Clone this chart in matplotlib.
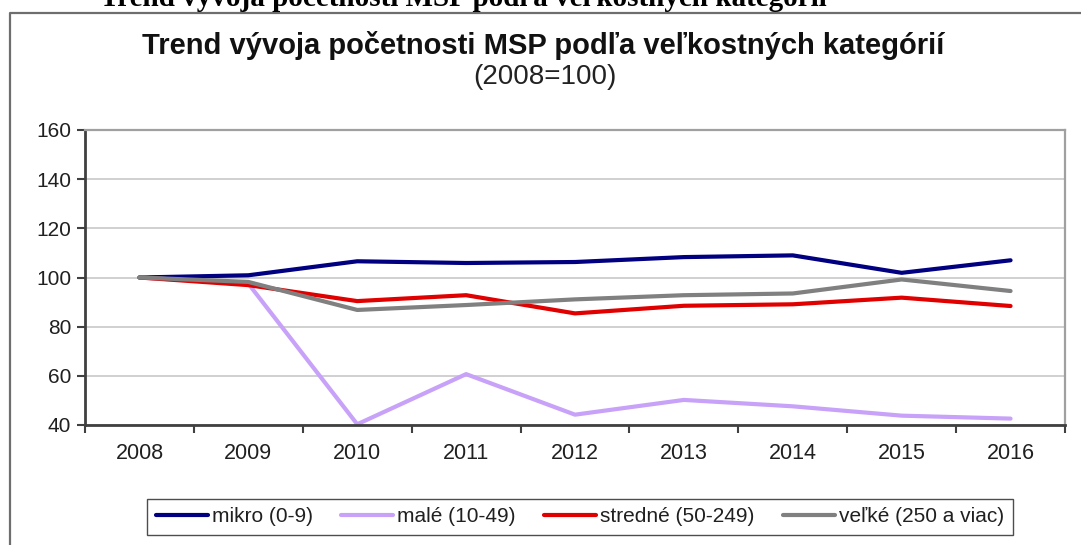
import matplotlib
matplotlib.use("Agg")
import matplotlib.pyplot as plt
from matplotlib.lines import Line2D

years = ["2008", "2009", "2010", "2011", "2012", "2013", "2014", "2015", "2016"]
mikro = [100, 100.9, 106.6, 105.9, 106.3, 108.3, 109.0, 101.9, 107.0]
male = [100, 97.5, 40.3, 60.7, 44.2, 50.2, 47.6, 43.8, 42.6]
stredne = [100, 96.9, 90.4, 92.8, 85.4, 88.5, 89.1, 91.8, 88.4]
velke = [100, 98.2, 86.8, 88.8, 91.1, 92.8, 93.5, 99.2, 94.5]
series_names = ["mikro (0-9)", "malé (10-49)", "stredné (50-249)", "veľké (250 a viac)"]
series_colors = ["#000080", "#C8A2F8", "#E00000", "#808080"]
yticks = [40, 60, 80, 100, 120, 140, 160]

W, H = 1081, 545
fig = plt.figure(figsize=(W / 100, H / 100), dpi=100)
fig.patch.set_facecolor("white")
font = ["Liberation Sans", "DejaVu Sans"]

# cropped header text of the document
fig.text(100 / W, 1 - 6 / H, "Trend vývoja početnosti MSP podľa veľkostných kategórií",
         family=["Liberation Serif", "DejaVu Serif"], weight="bold", fontsize=21,
         ha="left", va="baseline")

# outer chart frame (partially visible)
fig.add_artist(Line2D([10 / W, 10 / W, 1.0], [0.0, 1 - 13 / H, 1 - 13 / H],
                      transform=fig.transFigure, color="#6e6e6e", lw=1.6))

left, right, top, bottom = 85, 1065, 130, 425
ax = fig.add_axes([left / W, 1 - bottom / H, (right - left) / W, (bottom - top) / H])

x = list(range(len(years)))
for vals, name, col in zip([mikro, male, stredne, velke], series_names, series_colors):
    ax.plot(x, vals, color=col, lw=3.0, label=name, solid_joinstyle="round",
            solid_capstyle="round")

ax.set_xlim(-0.5, len(years) - 0.5)
ax.set_ylim(40, 160)
ax.set_yticks(yticks)
ax.set_yticklabels([str(v) for v in yticks], family=font, fontsize=15, color="#202020")
ax.set_xticks(x)
ax.set_xticklabels(years, family=font, fontsize=15.5, color="#202020")
ax.set_xticks([i - 0.5 for i in range(len(years) + 1)], minor=True)
ax.tick_params(axis="x", which="major", length=0, pad=13)
ax.tick_params(axis="x", which="minor", length=6, width=1.5, color="#404040", direction="out")
ax.tick_params(axis="y", length=6, width=1.5, color="#404040", pad=4)
ax.grid(axis="y", color="#c8c8c8", lw=1.2)
ax.set_axisbelow(True)
for s in ["top", "right"]:
    ax.spines[s].set_color("#a0a0a0")
    ax.spines[s].set_linewidth(1.6)
for s in ["left", "bottom"]:
    ax.spines[s].set_color("#404040")
    ax.spines[s].set_linewidth(2.0)

fig.text(543 / W, 1 - 46 / H, "Trend vývoja početnosti MSP podľa veľkostných kategórií",
         family=font, weight="bold", fontsize=21, ha="center", va="center", color="#111111")
fig.text(545 / W, 1 - 77 / H, "(2008=100)", family=font, fontsize=20, ha="center",
         va="center", color="#222222")

leg = fig.legend(loc="center", bbox_to_anchor=(580 / W, 1 - 517 / H), ncol=4,
                 prop={"family": font, "size": 15}, frameon=True, fancybox=False,
                 handlelength=2.5, handletextpad=0.2, columnspacing=1.35,
                 borderpad=0.4, edgecolor="#202020")
leg.get_frame().set_linewidth(1.0)
for t in leg.get_texts():
    t.set_color("#202020")

fig.savefig("out.png", dpi=100, facecolor="white")
